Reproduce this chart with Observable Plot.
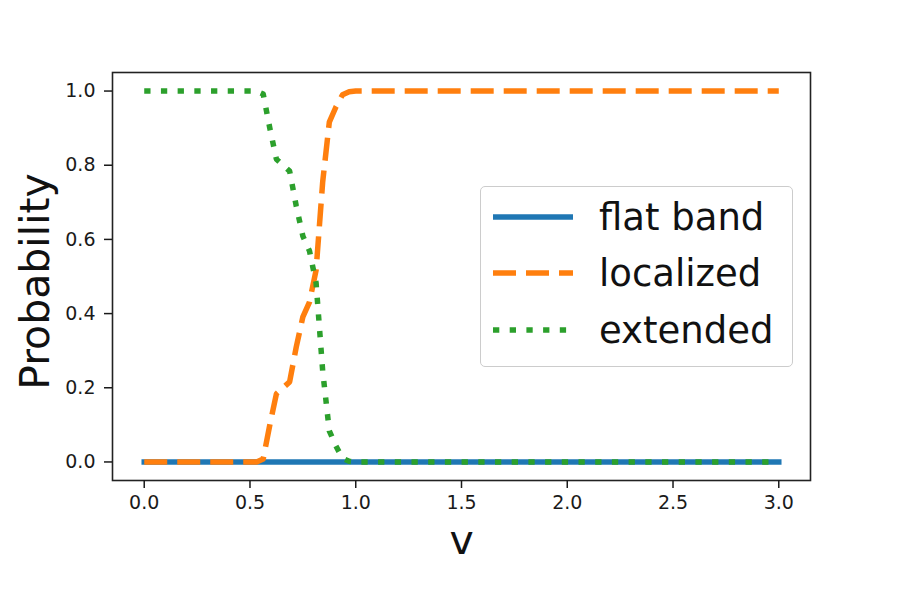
<!DOCTYPE html>
<html>
<head>
<meta charset="utf-8">
<script src="https://cdn.jsdelivr.net/npm/d3@7"></script>
<script src="https://cdn.jsdelivr.net/npm/@observablehq/plot@0.6"></script>
<style>
  html, body { margin: 0; padding: 0; background: #fff; }
  #wrap { position: relative; width: 900px; height: 600px; font-family: "DejaVu Sans", sans-serif; }
  #wrap svg text { font-family: "DejaVu Sans", sans-serif; }
  #legend { position: absolute; box-sizing: border-box; background: rgba(255,255,255,0.8);
            border: 1px solid #cccccc; border-radius: 5px; }
  .row { position: absolute; display: flex; align-items: center; }
  .row span { font-size: 37px; color: #111; line-height: 1; white-space: nowrap; }
</style>
</head>
<body>
<div id="wrap"></div>
<script>
// ---- data ----
const v          = [0, 0.53125, 0.5625, 0.59375, 0.625, 0.65625, 0.6875, 0.71875, 0.75, 0.78125, 0.8125, 0.84375, 0.875, 0.90625, 0.9375, 0.96875, 1.0, 3.0];
const flatBand   = [0, 0,       0,      0,       0,     0,       0,      0,       0,    0,       0,      0,       0,     0,       0,      0,       0,   0];
const localized  = [0, 0,       0.008,  0.10,    0.184, 0.20,    0.216,  0.31,    0.391,0.431,   0.517,  0.755,   0.916, 0.957,   0.990,  0.998,   1.0, 1.0];
const extended   = [1, 1,       0.992,  0.90,    0.816, 0.80,    0.784,  0.69,    0.609,0.569,   0.483,  0.245,   0.084, 0.043,   0.010,  0.002,   0,   0];
const seriesNames  = ["flat band", "localized", "extended"];
const seriesColors = ["#1f77b4", "#ff7f0e", "#2ca02c"];
const seriesDashes = [null, "23,10", "6.3,10.4"];
const xTicks = [0, 0.5, 1.0, 1.5, 2.0, 2.5, 3.0];
const yTicks = [0, 0.2, 0.4, 0.6, 0.8, 1.0];
const xLabel = "v";
const yLabel = "Probability";

const seriesValues = [flatBand, localized, extended];
const series = seriesNames.map((name, k) => ({
  name, color: seriesColors[k], dash: seriesDashes[k],
  rows: v.map((x, i) => ({v: x, p: seriesValues[k][i]}))
}));

const lineMarks = series.map(s => Plot.line(s.rows, {
  x: "v", y: "p", stroke: s.color, strokeWidth: 5.5,
  strokeDasharray: s.dash ?? undefined,
  strokeLinecap: s.dash ? "butt" : "square", strokeLinejoin: "round"
}));

const chart = Plot.plot({
  width: 900, height: 600,
  marginLeft: 112, marginRight: 90, marginTop: 72, marginBottom: 120,
  style: {fontFamily: "'DejaVu Sans', sans-serif", fontSize: "19px", color: "#1a1a1a", background: "white"},
  x: {domain: [-0.15, 3.15]},
  y: {domain: [-0.05, 1.05]},
  marks: [
    ...lineMarks,
    Plot.frame({stroke: "#222", strokeWidth: 1.6}),
    Plot.axisX({ticks: xTicks, tickFormat: d3.format(".1f"), tickSize: 8, tickPadding: 7, fontSize: 19, strokeWidth: 1.5, label: null}),
    Plot.axisY({ticks: yTicks, tickFormat: d3.format(".1f"), tickSize: 8, tickPadding: 9, fontSize: 19, strokeWidth: 1.5, label: null}),
    Plot.text([yLabel], {text: d => d, frameAnchor: "left", dx: -77, dy: 5, rotate: -90, fontSize: 41, textAnchor: "middle", lineAnchor: "middle", fill: "#111"}),
    Plot.text([xLabel], {text: d => d, frameAnchor: "bottom", dy: 60, fontSize: 41, textAnchor: "middle", lineAnchor: "middle", fill: "#111"})
  ]
});

const wrap = document.getElementById("wrap");
wrap.appendChild(chart);

// ---- legend (inside the axes) ----
const legend = document.createElement("div");
legend.id = "legend";
Object.assign(legend.style, {left: "480px", top: "186px", width: "313px", height: "181px"});
const rowCenters = [30, 86, 143];
series.forEach((s, k) => {
  const row = document.createElement("div");
  row.className = "row";
  row.style.left = "11px";
  row.style.top = (rowCenters[k] - 20) + "px";
  row.style.height = "40px";
  const sw = d3.create("svg").attr("width", 82).attr("height", 40);
  sw.append("line").attr("x1", 1).attr("x2", 81).attr("y1", 20).attr("y2", 20)
    .attr("stroke", s.color).attr("stroke-width", 5.5)
    .attr("stroke-dasharray", s.dash)
    .attr("stroke-linecap", "butt");
  row.appendChild(sw.node());
  const txt = document.createElement("span");
  txt.textContent = s.name;
  txt.style.marginLeft = "25px";
  row.appendChild(txt);
  legend.appendChild(row);
});
wrap.appendChild(legend);
</script>
</body>
</html>
